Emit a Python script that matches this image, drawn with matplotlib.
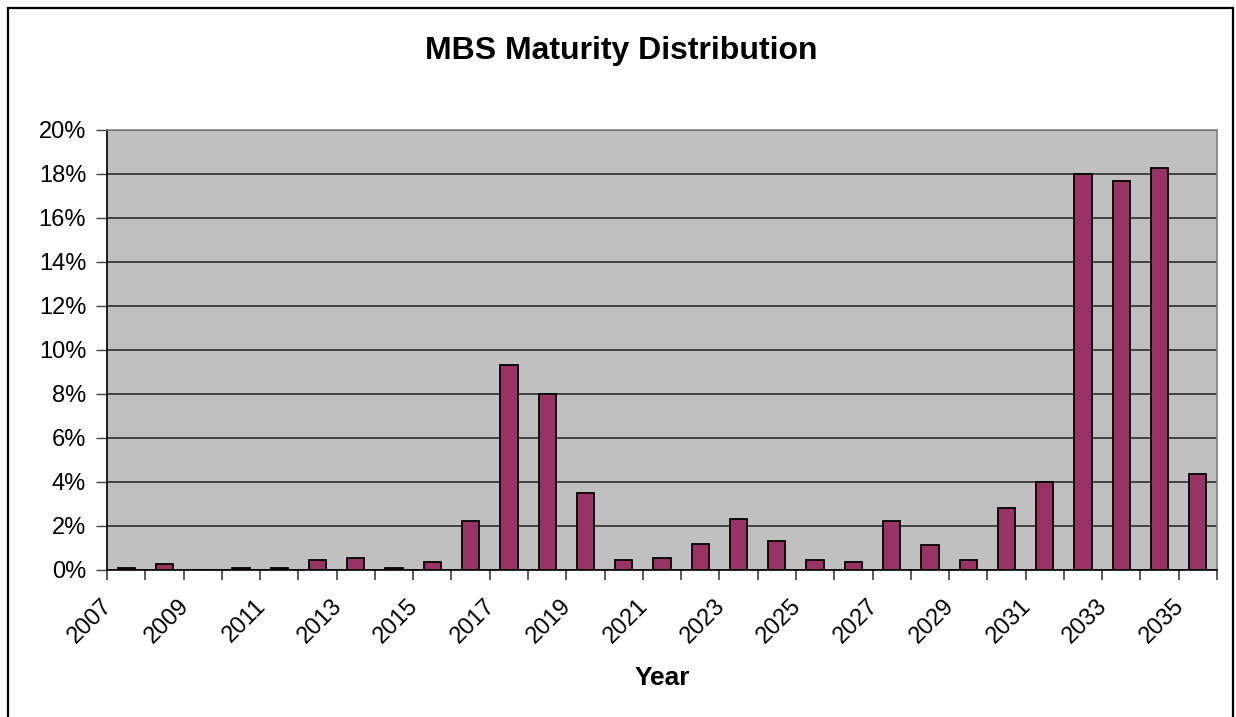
import matplotlib.pyplot as plt
import numpy as np
from matplotlib.patches import Rectangle
from matplotlib.transforms import offset_copy

plt.rcParams["font.family"] = ["Liberation Sans", "DejaVu Sans"]

# Data (share of MBS maturing, %)
years = list(range(2007, 2036))
share = [
    0.10, 0.28, 0.00, 0.10, 0.10, 0.45, 0.54, 0.10, 0.35, 2.25,
    9.30, 8.00, 3.50, 0.45, 0.53, 1.20, 2.30, 1.30, 0.45, 0.35,
    2.22, 1.12, 0.44, 2.83, 4.02, 18.00, 17.67, 18.27, 4.35,
]
y_ticks = list(range(0, 21, 2))
y_labels = [f"{v}%" for v in y_ticks]

W, H = 1236, 717
fig = plt.figure(figsize=(W / 100, H / 100), dpi=100)

# Outer chart border
fig.patches.append(Rectangle(
    (8 / W, -0.05), 1225 / W, 0.05 + (H - 8) / H,
    transform=fig.transFigure, fill=False, edgecolor="black", linewidth=1.6,
))

ax = fig.add_axes([107 / W, (H - 570) / H, 1110 / W, 440 / H])
ax.set_facecolor("#c0c0c0")

x = np.arange(len(years))
ax.bar(x, share, width=0.45, color="#993366", edgecolor="black",
       linewidth=1.3, zorder=3)

# Gridlines and y axis
ax.set_yticks(y_ticks, y_labels, fontsize=17)
ax.yaxis.grid(True, color="#383838", linewidth=1.3, zorder=1)
ax.tick_params(axis="y", length=8, width=1, color="#404040", pad=7)

# Tick marks between categories, no tick labels (drawn below as text)
ax.set_xticks(np.arange(-0.5, len(years) + 0.5, 1.0))
ax.tick_params(axis="x", which="major", length=7, width=1.2, color="#404040",
               labelbottom=False)
ax.set_xlim(-0.5, len(years) - 0.5)
ax.set_ylim(0, 20)

# Year labels every other year, rotated like Excel's
lab_tr = offset_copy(ax.get_xaxis_transform(), fig=fig, x=-25, y=-25,
                     units="dots")
for xi, yr in zip(x[::2], years[::2]):
    ax.text(xi, 0, str(yr), transform=lab_tr, rotation=45, ha="right",
            va="top", rotation_mode="anchor", fontsize=17, clip_on=False)

for side in ("left", "bottom"):
    ax.spines[side].set_color("black")
    ax.spines[side].set_linewidth(1.2)
for side in ("top", "right"):
    ax.spines[side].set_color("#808080")
    ax.spines[side].set_linewidth(1.2)

fig.text(621 / W, 1 - 51 / H, "MBS Maturity Distribution", ha="center",
         va="center", fontsize=23, fontweight="bold")
fig.text(662 / W, 1 - 678 / H, "Year", ha="center", va="center",
         fontsize=19, fontweight="bold")

fig.savefig("out.png", dpi=100)
